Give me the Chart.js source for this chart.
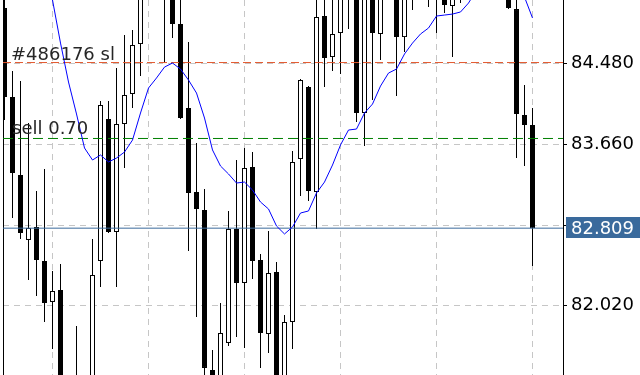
<!DOCTYPE html>
<html>
<head>
<meta charset="utf-8">
<script src="https://cdn.jsdelivr.net/npm/chart.js@4.4.1/dist/chart.umd.min.js"></script>
<style>
  html, body { margin: 0; padding: 0; background: #fff; overflow: hidden; }
  canvas { display: block; }
</style>
</head>
<body>
<canvas id="chart" width="640" height="375"></canvas>
<script>
// OHLC bars, oldest first (bars past the window edges are estimates)
const opens = [85.047, 84.143, 83.350, 82.689, 82.821, 82.475, 82.059, 82.181, 81.164, 81.011,
  81.215, 81.113, 82.475, 83.919, 82.770, 83.868, 84.173, 84.681, 85.210, 85.484,
  85.332, 85.251, 84.885, 84.031, 83.177, 82.994, 81.367, 81.113, 81.642, 82.801,
  82.252, 83.431, 82.485, 81.733, 82.363, 81.062, 81.855, 83.512, 84.244, 83.177,
  84.966, 84.549, 84.793, 85.210, 85.179, 83.980, 85.179, 84.783, 85.230, 85.230,
  84.752, 85.281, 85.281, 85.332, 85.179, 85.230, 85.068, 85.281, 85.230, 85.484,
  85.688, 85.535, 85.739, 85.332, 85.037, 83.960, 83.858];
const highs = [85.332, 84.407, 84.305, 83.878, 83.187, 83.411, 82.374, 82.445, 81.245, 81.815,
  81.286, 82.699, 84.102, 84.102, 84.437, 84.773, 84.824, 85.281, 85.688, 85.840,
  85.434, 85.383, 85.159, 84.702, 83.675, 83.207, 81.571, 82.048, 82.984, 83.502,
  83.624, 83.583, 82.546, 82.780, 82.465, 81.926, 83.594, 84.325, 84.254, 85.159,
  85.179, 85.179, 85.332, 85.484, 85.332, 85.230, 85.281, 85.281, 85.535, 85.434,
  85.230, 85.383, 85.484, 85.434, 85.434, 85.332, 85.281, 85.383, 85.637, 85.840,
  85.942, 85.891, 85.840, 85.434, 85.179, 84.264, 84.031];
const lows = [83.909, 82.912, 82.699, 82.282, 82.120, 81.855, 81.581, 80.961, 80.757, 80.656,
  80.859, 81.062, 82.211, 82.760, 82.211, 83.421, 84.031, 84.356, 85.159, 85.179,
  84.488, 84.742, 83.919, 82.577, 81.906, 81.266, 80.961, 81.062, 81.611, 81.703,
  81.591, 82.292, 81.388, 81.540, 80.961, 81.011, 81.581, 83.136, 83.085, 82.801,
  84.244, 84.407, 84.376, 84.834, 83.888, 83.644, 84.112, 84.519, 85.159, 84.153,
  84.600, 85.027, 85.179, 85.057, 84.793, 84.996, 84.549, 85.098, 85.179, 85.332,
  85.383, 85.434, 85.281, 85.037, 83.522, 83.441, 82.424];
const closes = [84.143, 83.370, 82.760, 82.811, 82.485, 82.048, 82.170, 81.164, 81.011, 81.215,
  81.113, 82.333, 84.061, 82.770, 83.868, 84.163, 84.671, 85.179, 85.484, 85.332,
  85.230, 84.885, 83.929, 83.167, 83.004, 81.388, 81.113, 81.743, 82.801, 82.252,
  83.421, 82.475, 81.743, 82.353, 81.062, 81.855, 83.482, 84.315, 83.187, 84.956,
  84.539, 84.783, 85.179, 85.383, 83.980, 85.159, 84.793, 85.179, 85.434, 84.752,
  85.159, 85.179, 85.383, 85.179, 85.332, 85.078, 85.179, 85.210, 85.484, 85.688,
  85.535, 85.739, 85.434, 85.047, 83.970, 83.858, 82.809];

// moving average
const maValues = [86.806, 86.654, 86.450, 86.196, 85.891, 85.535, 85.129, 84.691, 84.295, 83.970,
  83.624, 83.502, 83.553, 83.482, 83.522, 83.583, 83.705, 83.980, 84.234, 84.336,
  84.447, 84.488, 84.427, 84.315, 84.183, 83.929, 83.604, 83.441, 83.360, 83.268,
  83.278, 83.197, 83.075, 83.004, 82.831, 82.750, 82.821, 82.963, 82.984, 83.167,
  83.278, 83.451, 83.655, 83.807, 83.817, 83.980, 84.071, 84.254, 84.386, 84.427,
  84.580, 84.691, 84.783, 84.844, 84.966, 84.976, 84.986, 85.007, 85.098, 85.230,
  85.332, 85.413, 85.434, 85.413, 85.332, 85.159, 84.946];

const priceTicks = [82.020, 82.840, 83.660, 84.480];
const timeGridBars = [6, 18, 30, 42, 54, 66];

const bidPrice = 82.809;
const slPrice = 84.493;
const sellPrice = 83.721;
const slLabel = '#486176 sl';
const sellLabel = 'sell 0.70';

// visible window
const xMin = -0.1875, xMax = 69.8125;
const yMin = 81.316, yMax = 85.129;

Chart.defaults.font.family = '"DejaVu Sans", sans-serif';

const barIndex = opens.map((_, i) => i);
const bodies = barIndex.map(i => ({x: i, y: [opens[i], closes[i]]}));
const wicks = barIndex.map(i => ({x: i, y: [lows[i], highs[i]]}));
const bodyFill = barIndex.map(i => closes[i] >= opens[i] ? '#ffffff' : '#000000');
const maPoints = barIndex.map(i => ({x: i, y: maValues[i]}));

function levelLine(price) {
    return [{x: xMin, y: price}, {x: xMax, y: price}];
}

// trade labels and the bid price box
const tradePlugin = {
    id: 'tradePlugin',
    afterDatasetsDraw(chart) {
        const {ctx, chartArea, scales: {y}} = chart;
        ctx.save();
        ctx.font = '18px "DejaVu Sans"';
        ctx.fillStyle = '#262626';
        ctx.textBaseline = 'alphabetic';
        ctx.fillText(slLabel, chartArea.left + 8, y.getPixelForValue(slPrice) - 3);
        ctx.fillText(sellLabel, chartArea.left + 9, y.getPixelForValue(sellPrice) - 4);
        ctx.restore();
    },
    afterDraw(chart) {
        const {ctx, chartArea, scales: {y}} = chart;
        const py = Math.round(y.getPixelForValue(bidPrice));
        ctx.save();
        ctx.fillStyle = '#3a6a9c';
        ctx.fillRect(chartArea.right + 3, py - 11, chart.width - chartArea.right - 3, 21);
        ctx.fillStyle = '#ffffff';
        ctx.font = '18px "DejaVu Sans"';
        ctx.textBaseline = 'middle';
        ctx.fillText(bidPrice.toFixed(3), chartArea.right + 8, py + 1);
        ctx.restore();
    }
};

new Chart(document.getElementById('chart'), {
    type: 'bar',
    data: {
        datasets: [
            {
                type: 'line',
                data: maPoints,
                borderColor: '#0000ff',
                borderWidth: 1,
                pointRadius: 0,
                tension: 0
            },
            {
                type: 'line',
                data: levelLine(slPrice),
                borderColor: '#e2552b',
                borderWidth: 1,
                borderDash: [8, 4],
                pointRadius: 0
            },
            {
                type: 'line',
                data: levelLine(sellPrice),
                borderColor: '#008000',
                borderWidth: 1,
                borderDash: [10, 5],
                pointRadius: 0
            },
            {
                type: 'line',
                data: levelLine(bidPrice),
                borderColor: '#3a6a9c',
                borderWidth: 1,
                pointRadius: 0
            },
            {
                data: bodies,
                backgroundColor: bodyFill,
                borderColor: '#000000',
                borderWidth: 1,
                borderSkipped: false,
                barThickness: 5,
                minBarLength: 1,
                inflateAmount: 0,
                grouped: false
            },
            {
                data: wicks,
                backgroundColor: '#000000',
                borderWidth: 0,
                barThickness: 1,
                inflateAmount: 0,
                grouped: false
            }
        ]
    },
    options: {
        responsive: false,
        animation: false,
        devicePixelRatio: 1,
        layout: {padding: {left: 3, right: 0, top: 0, bottom: 0}},
        plugins: {
            legend: {display: false},
            tooltip: {enabled: false}
        },
        scales: {
            x: {
                type: 'linear',
                min: xMin,
                max: xMax,
                offset: false,
                afterBuildTicks: scale => { scale.ticks = timeGridBars.map(v => ({value: v})); },
                afterFit: scale => { scale.height = 0; scale.paddingLeft = 0; scale.paddingRight = 0; },
                ticks: {display: false},
                grid: {color: '#c6c6c6', drawTicks: false, offset: false},
                border: {display: false, dash: [6, 5]}
            },
            y: {
                type: 'linear',
                position: 'right',
                min: yMin,
                max: yMax,
                beginAtZero: false,
                afterBuildTicks: scale => { scale.ticks = priceTicks.map(v => ({value: v})); },
                afterFit: scale => { scale.width = 77; scale.paddingTop = 0; scale.paddingBottom = 0; },
                ticks: {
                    color: '#000000',
                    font: {size: 18},
                    padding: 4,
                    callback: v => v.toFixed(3)
                },
                grid: {color: '#c6c6c6', tickColor: '#000000', tickLength: 4, tickBorderDash: []},
                border: {display: true, color: '#000000', dash: [6, 5]}
            },
            yl: {
                type: 'linear',
                position: 'left',
                afterFit: scale => { scale.width = 0; scale.paddingTop = 0; scale.paddingBottom = 0; },
                ticks: {display: false},
                grid: {drawOnChartArea: false, drawTicks: false},
                border: {display: true, color: '#000000'}
            }
        }
    },
    plugins: [tradePlugin]
});
</script>
</body>
</html>
